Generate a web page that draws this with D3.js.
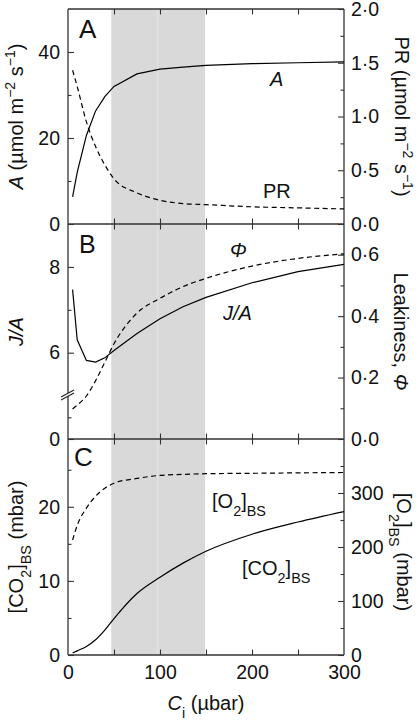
<!DOCTYPE html>
<html><head><meta charset="utf-8">
<script src="https://cdn.jsdelivr.net/npm/d3@7"></script>
<style>
html,body{margin:0;padding:0;background:#fff;}
svg text{font-family:"Liberation Sans",Arial,Helvetica,sans-serif;fill:#111;}
</style></head>
<body>
<svg id="chart" width="420" height="721"></svg>
<script>
// ---------- data ----------
const ci = [5, 10, 20, 30, 40, 50, 75, 100, 125, 150, 200, 250, 300];
const assim = [6.3, 12.0, 20.6, 26.3, 29.6, 32.0, 34.9, 36.0, 36.5, 36.9, 37.3, 37.5, 37.7];
const pr = [1.43, 1.28, 0.95, 0.72, 0.55, 0.42, 0.29, 0.22, 0.19, 0.18, 0.16, 0.15, 0.14];
const jOverA = [7.47, 6.30, 5.82, 5.78, 5.88, 6.05, 6.45, 6.79, 7.07, 7.29, 7.63, 7.89, 8.06];
const leakiness = [0.098, 0.11, 0.14, 0.19, 0.25, 0.31, 0.41, 0.458, 0.496, 0.523, 0.563, 0.588, 0.603];
const co2bs = [0.27, 0.56, 1.15, 2.06, 3.36, 4.92, 8.3, 10.5, 12.4, 14.0, 16.3, 17.95, 19.35];
const o2bs = [213, 240, 272, 294, 309, 318, 327, 332.6, 334.5, 335.7, 336.5, 337.3, 338];
const shadeRange = [47, 97.5, 149];
const xTicks = [0, 100, 200, 300];
const xMinor = [50, 150, 250];
const aTicks = [0, 20, 40], aMinor = [10, 30];
const prTicks = [0, 0.5, 1.0, 1.5, 2.0], prMinor = [0.25, 0.75, 1.25, 1.75];
const jaTicks = [0, 6, 8], jaMinor = [2.5, 7];
const phiTicks = [0, 0.2, 0.4, 0.6], phiMinor = [0.1, 0.3, 0.5];
const co2Ticks = [0, 10, 20], co2Minor = [5, 15, 25];
const o2Ticks = [0, 100, 200, 300], o2Minor = [50, 150, 250, 350];

// ---------- layout ----------
const L = 68, R = 344, T = 9, B1 = 224, B2 = 439, B3 = 655;
const svg = d3.select("#chart");
const x = d3.scaleLinear().domain([0, 300]).range([L, R]);

const yA = d3.scaleLinear().domain([0, 50]).range([B1, T]);
const yPR = d3.scaleLinear().domain([0, 2]).range([B1, T]);
const yJA = d3.scaleLinear().domain([0, 5, 9]).range([B2, 395.6, B1]);
const yPhi = d3.scaleLinear().domain([0, 0.7]).range([B2, B1]);
const yCO2 = d3.scaleLinear().domain([0, 29.15]).range([B3, B2]);
const yO2 = d3.scaleLinear().domain([0, 400]).range([B3, B2]);

// shading
svg.append("rect").attr("x", x(shadeRange[0])).attr("y", T)
  .attr("width", x(shadeRange[2]) - x(shadeRange[0])).attr("height", B3 - T)
  .attr("fill", "#d9d9d9");
svg.append("line").attr("x1", x(shadeRange[1])).attr("x2", x(shadeRange[1]))
  .attr("y1", T).attr("y2", B3).attr("stroke", "#e4e4e4").attr("stroke-width", 1);

const axisColor = "#333";
const fmtDot = d => d3.format(".1f")(d).replace(".", "·");

function styleAxis(g) {
  g.select(".domain").remove();
  g.selectAll(".tick line").attr("stroke", axisColor).attr("stroke-width", 1.1);
  g.selectAll("text").style("font-size", "19.5px").attr("fill", "#111");
}

function yAxes(scale, ticks, minor, side, fmt) {
  const gen = side === "left" ? d3.axisLeft(scale) : d3.axisRight(scale);
  const g = svg.append("g").attr("transform", `translate(${side === "left" ? L : R},0)`);
  g.call(gen.tickValues(ticks).tickSize(-6).tickPadding(side === "left" ? 8 : 7)
     .tickFormat(fmt || d3.format("d")));
  styleAxis(g);
  const gm = svg.append("g").attr("transform", `translate(${side === "left" ? L : R},0)`);
  gm.call((side === "left" ? d3.axisLeft(scale) : d3.axisRight(scale)).tickValues(minor).tickSize(-3.5).tickFormat(""));
  styleAxis(gm);
}

// x ticks on every horizontal edge (inward)
function xEdge(yPos, dir) {
  const all = xTicks.concat(xMinor).filter(v => v > 0 && v < 300);
  const g = svg.append("g").attr("transform", `translate(0,${yPos})`);
  g.call((dir === "down" ? d3.axisTop(x) : d3.axisBottom(x)).tickValues(all).tickSize(-5.5).tickFormat(""));
  styleAxis(g);
}
xEdge(T, "down");
xEdge(B1, "up"); xEdge(B1, "down");
xEdge(B2, "up"); xEdge(B2, "down");
xEdge(B3, "up");

// x tick labels
const gx = svg.append("g").attr("transform", `translate(0,${B3})`);
gx.call(d3.axisBottom(x).tickValues(xTicks).tickSize(0).tickPadding(10.5).tickFormat(d3.format("d")));
styleAxis(gx);

yAxes(yA, aTicks, aMinor, "left");
yAxes(yPR, prTicks, prMinor, "right", fmtDot);
yAxes(yJA, jaTicks, jaMinor, "left");
yAxes(yPhi, phiTicks, phiMinor, "right", fmtDot);
yAxes(yCO2, co2Ticks, co2Minor, "left");
yAxes(yO2, o2Ticks, o2Minor, "right");

// frame lines
const frame = svg.append("g").attr("stroke", axisColor).attr("stroke-width", 1.3).attr("fill", "none");
frame.append("line").attr("x1", L).attr("x2", L).attr("y1", T).attr("y2", B3);
frame.append("line").attr("x1", R).attr("x2", R).attr("y1", T).attr("y2", B3);
[T, B1, B2, B3].forEach(yy => frame.append("line").attr("x1", L).attr("x2", R).attr("y1", yy).attr("y2", yy));

// axis break on J/A axis
const by = yJA(4.95);
svg.append("polygon").attr("points", `${L-7},${by+1} ${L+6},${by-6} ${L+6},${by-3} ${L-7},${by+4}`).attr("fill", "#fff");
svg.append("line").attr("x1", L-7).attr("y1", by+1).attr("x2", L+6).attr("y2", by-6).attr("stroke", "#222").attr("stroke-width", 1.1);
svg.append("line").attr("x1", L-7).attr("y1", by+4).attr("x2", L+6).attr("y2", by-3).attr("stroke", "#222").attr("stroke-width", 1.1);

// curves
function curve(vals, yScale, dashed, smooth) {
  const line = d3.line().x((d, i) => x(ci[i])).y(d => yScale(d))
    .curve(smooth ? d3.curveMonotoneX : d3.curveLinear);
  svg.append("path").datum(vals).attr("d", line).attr("fill", "none")
    .attr("stroke", "#000").attr("stroke-width", 1.2)
    .attr("stroke-dasharray", dashed ? "5,3.5" : null);
}
curve(assim, yA, false, false);
curve(pr, yPR, true, true);
curve(jOverA, yJA, false, false);
curve(leakiness, yPhi, true, true);
curve(co2bs, yCO2, false, true);
curve(o2bs, yO2, true, true);

// text helpers
function txt(xp, yp, size, parts, opts = {}) {
  const t = svg.append("text").attr("x", xp).attr("y", yp).style("font-size", size + "px");
  if (opts.anchor) t.attr("text-anchor", opts.anchor);
  if (opts.rotate) t.attr("transform", `rotate(${opts.rotate},${xp},${yp})`);
  parts.forEach(p => {
    const s = t.append("tspan").text(p.t);
    if (p.i) s.style("font-style", "italic");
    if (p.sup) s.attr("baseline-shift", "super").style("font-size", (size * 0.7) + "px");
    if (p.sub) s.attr("baseline-shift", "sub").style("font-size", (size * 0.72) + "px");
  });
  return t;
}

// panel letters
txt(79, 38, 26, [{t: "A"}]);
txt(79, 253, 25, [{t: "B"}]);
txt(74, 466, 26, [{t: "C"}]);

// curve labels
txt(270, 86, 20, [{t: "A", i: true}]);
txt(263, 198, 20, [{t: "PR"}]);
txt(230, 257, 20, [{t: "Φ", i: true}]);
txt(223, 320, 20, [{t: "J/A", i: true}]);
txt(212, 508, 20, [{t: "[O"}, {t: "2", sub: true}, {t: "]"}, {t: "BS", sub: true}]);
txt(242, 575, 20, [{t: "[CO"}, {t: "2", sub: true}, {t: "]"}, {t: "BS", sub: true}]);

// axis titles
txt(22.5, (T + B1) / 2, 20, [{t: "A", i: true}, {t: " (µmol m"}, {t: "−2", sup: true}, {t: " s"}, {t: "−1", sup: true}, {t: ")"}], {anchor: "middle", rotate: -90});
txt(23, (B1 + B2) / 2, 20, [{t: "J/A", i: true}], {anchor: "middle", rotate: -90});
txt(22.5, (B2 + B3) / 2, 20, [{t: "[CO"}, {t: "2", sub: true}, {t: "]"}, {t: "BS", sub: true}, {t: " (mbar)"}], {anchor: "middle", rotate: -90});
txt(395, (T + B1) / 2, 20, [{t: "PR (µmol m"}, {t: "−2", sup: true}, {t: " s"}, {t: "−1", sup: true}, {t: ")"}], {anchor: "middle", rotate: 90});
txt(394, (B1 + B2) / 2, 20, [{t: "Leakiness, "}, {t: "Φ", i: true}], {anchor: "middle", rotate: 90});
txt(397, (B2 + B3) / 2 + 5, 20, [{t: "[O"}, {t: "2", sub: true}, {t: "]"}, {t: "BS", sub: true}, {t: " (mbar)"}], {anchor: "middle", rotate: 90});
txt(x(150), 710, 20, [{t: "C", i: true}, {t: "i", sub: true}, {t: " (µbar)"}], {anchor: "middle"});
</script>
</body></html>
